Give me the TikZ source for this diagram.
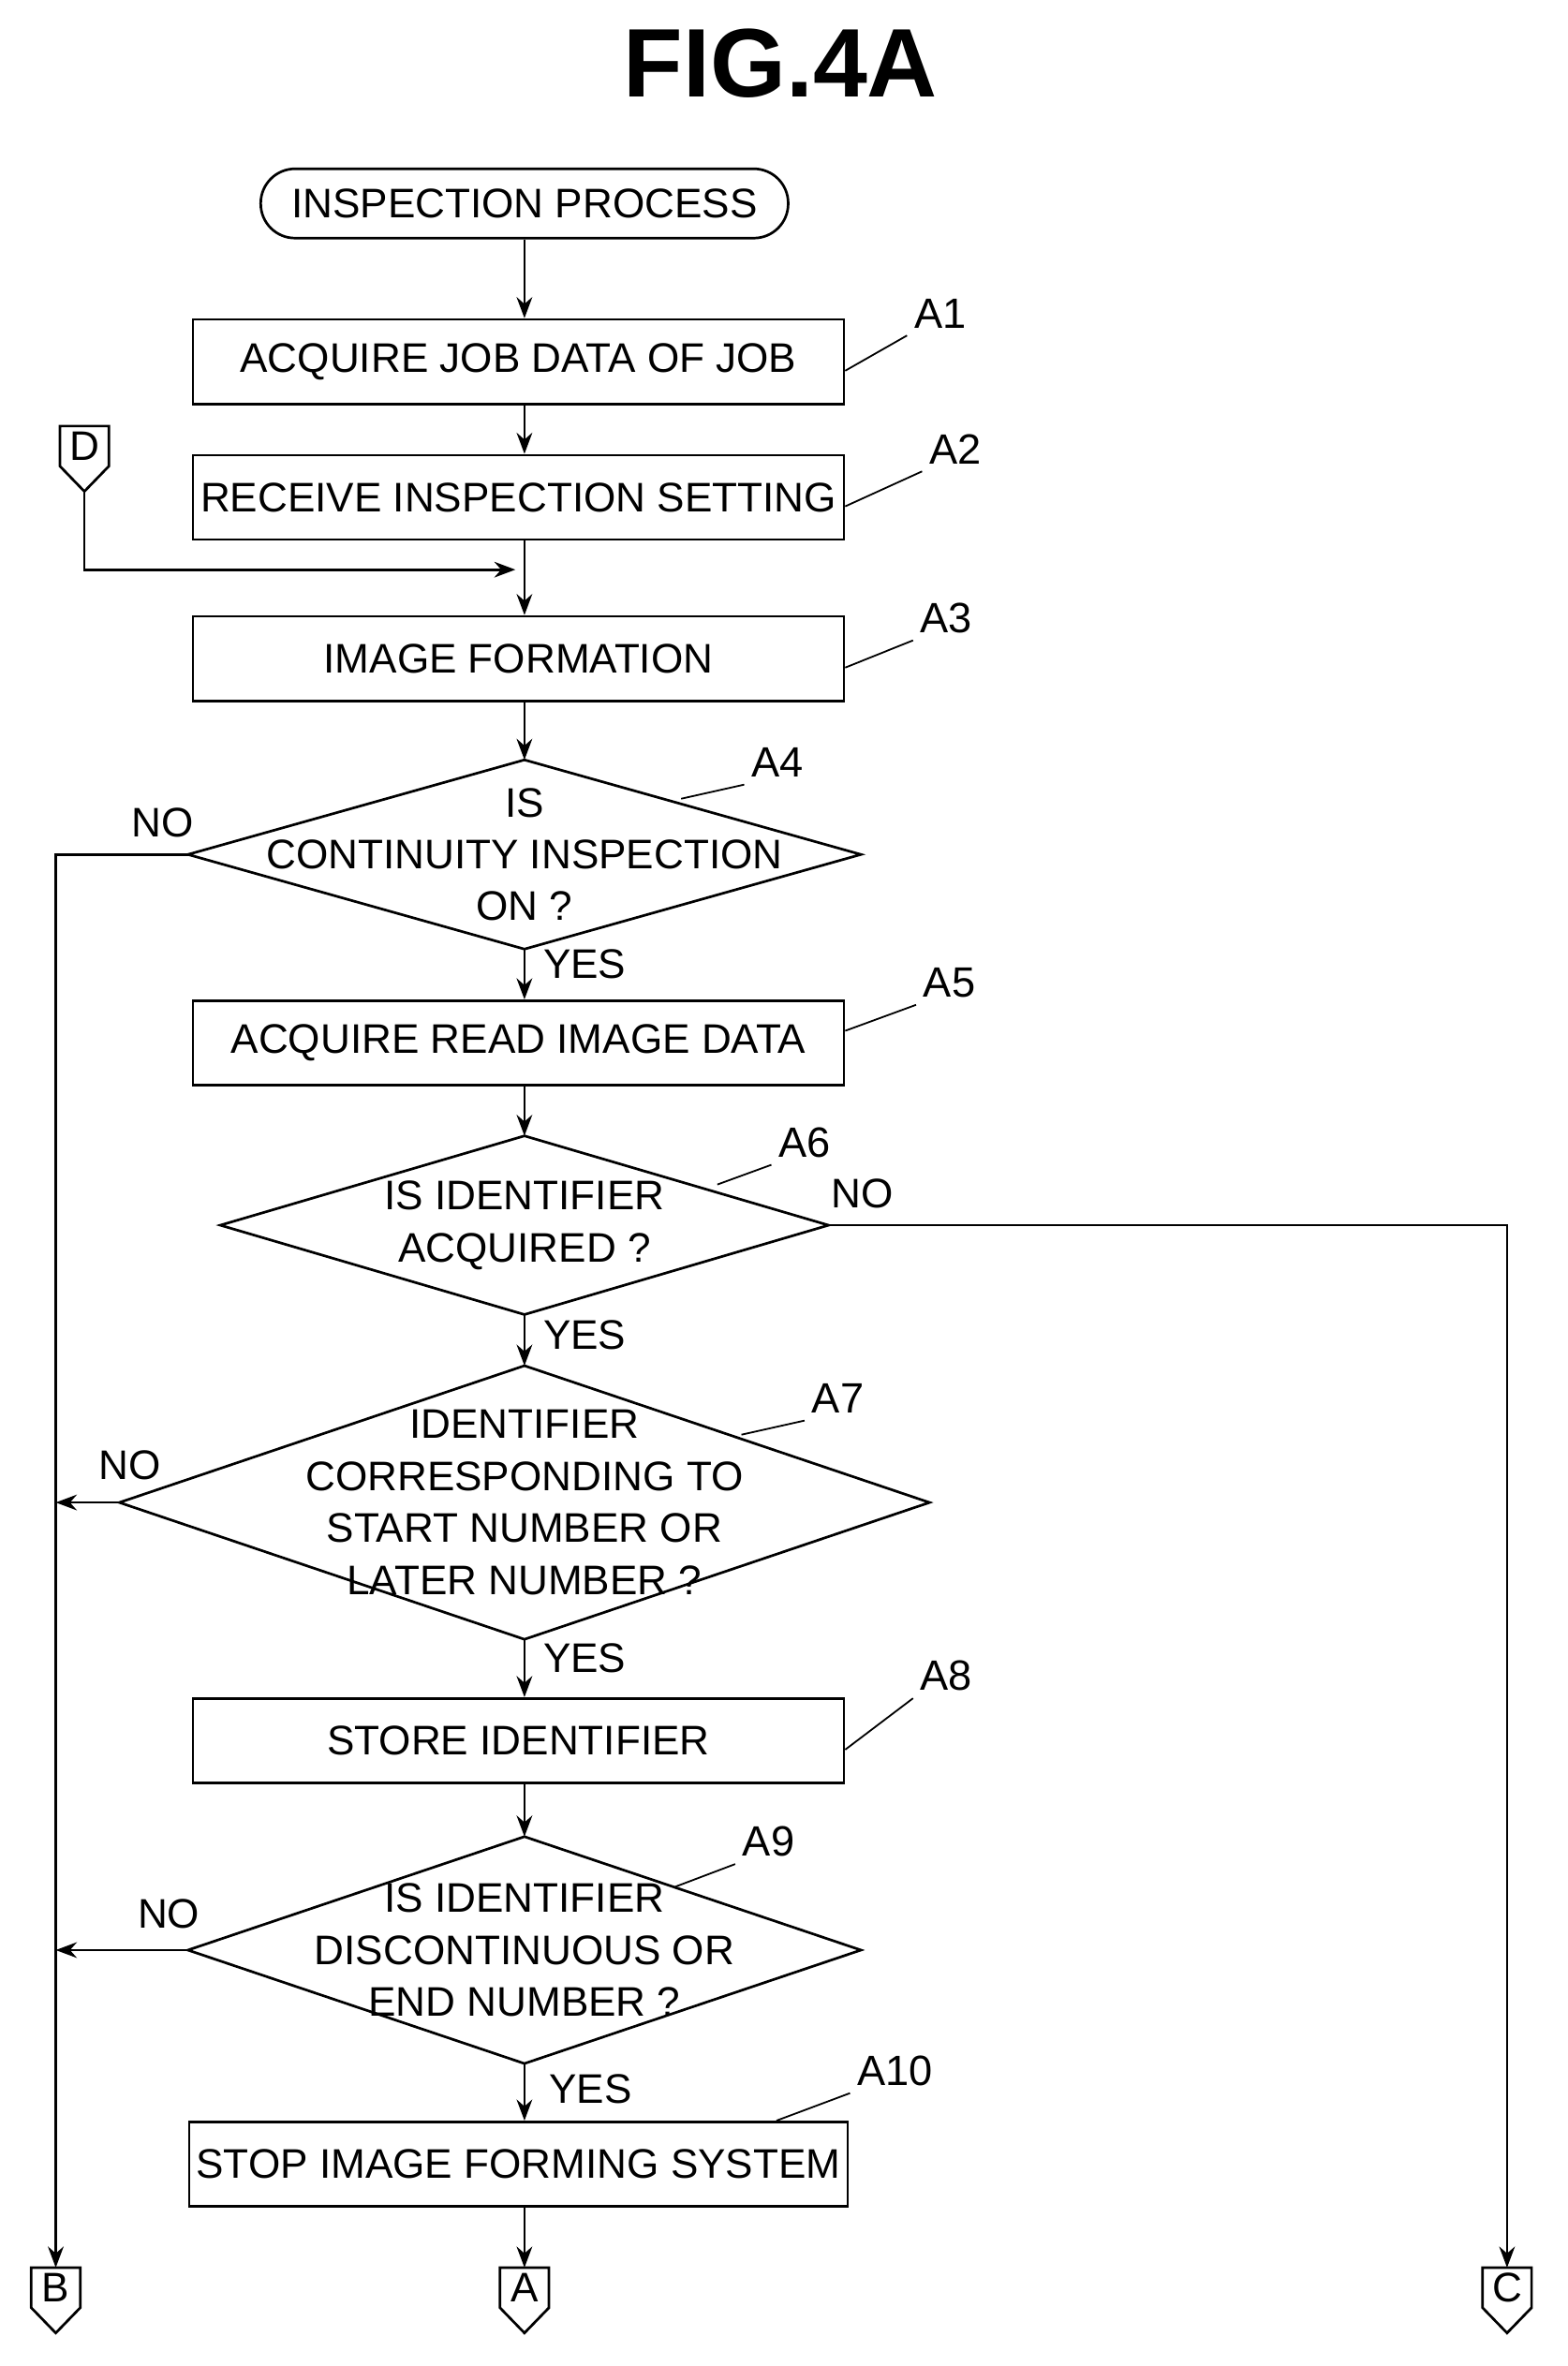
\documentclass[tikz,border=0pt]{standalone}
\usepackage{fontspec}
\setmainfont{Liberation Sans}
\usetikzlibrary{arrows.meta}

\begin{document}
\begin{tikzpicture}[
            every node/.style={font=\fontsize{19.5}{24.5}\selectfont},
            line/.style={line width=1.2pt},
            arrow/.style={line, -{Stealth[length=3.5mm,width=2.6mm]}},
            box/.style={rectangle, draw, line, minimum width=10.8cm, minimum height=1.4cm, text centered},
            term/.style={rectangle, draw, line, rounded corners=0.57cm, minimum width=8.75cm, minimum height=1.15cm},
            decision/.style={rectangle, inner sep=0pt, align=center},
            steplabel/.style={font=\fontsize{20}{24}\selectfont},
            leader/.style={line width=0.8pt},
            offpage/.style={rectangle, minimum width=0.8cm, minimum height=0.65cm, inner sep=0pt}
            ]
            \useasboundingbox (0,0) rectangle (26,-39.25);

            % Title
            \node[font=\fontsize{46}{50}\selectfont\bfseries] (title) at (12.95,-1.05) {FIG.4A};

            % Main flow
            \node[term] (start) at (8.7,-3.375) {INSPECTION PROCESS};
            \node[box] (a1) at (8.6,-6.0) {ACQUIRE JOB DATA OF JOB};
            \node[box] (a2) at (8.6,-8.25) {RECEIVE INSPECTION SETTING};
            \coordinate (merge) at (8.7,-9.45);
            \node[box] (a3) at (8.6,-10.925) {IMAGE FORMATION};
            \node[decision, minimum width=11.15cm, minimum height=3.125cm] (a4) at (8.7,-14.175) {IS\\CONTINUITY INSPECTION\\ON ?};
            \node[box] (a5) at (8.6,-17.3) {ACQUIRE READ IMAGE DATA};
            \node[decision, minimum width=10.075cm, minimum height=2.95cm] (a6) at (8.7,-20.325) {IS IDENTIFIER\\ACQUIRED ?};
            \node[decision, minimum width=13.425cm, minimum height=4.525cm] (a7) at (8.7,-24.925) {IDENTIFIER\\CORRESPONDING TO\\START NUMBER OR\\LATER NUMBER ?};
            \node[box] (a8) at (8.6,-28.875) {STORE IDENTIFIER};
            \node[decision, minimum width=11.15cm, minimum height=3.75cm] (a9) at (8.7,-32.35) {IS IDENTIFIER\\DISCONTINUOUS OR\\END NUMBER ?};
            \node[box] (a10) at (8.6,-35.9) {STOP IMAGE FORMING SYSTEM};
            \foreach \n in {a4,a6,a7,a9}
                \draw[line] (\n.north) -- (\n.east) -- (\n.south) -- (\n.west) -- cycle;

            % Off-page connectors
            \node[offpage] (d) at (1.4,-7.4) {D};
            \node[offpage] (b) at (0.925,-37.95) {B};
            \node[offpage] (a) at (8.7,-37.95) {A};
            \node[offpage] (c) at (25.0,-37.95) {C};
            \foreach \n in {d,b,a,c}
                \draw[line] (\n.north west) -- (\n.north east) -- (\n.south east) -- ([yshift=-0.42cm]\n.south) -- (\n.south west) -- cycle;

            % Step labels
            \node[steplabel] (l1) at (15.6,-5.2) {A1};
            \node[steplabel] (l2) at (15.85,-7.45) {A2};
            \node[steplabel] (l3) at (15.7,-10.25) {A3};
            \node[steplabel] (l4) at (12.9,-12.65) {A4};
            \node[steplabel] (l5) at (15.75,-16.3) {A5};
            \node[steplabel] (l6) at (13.35,-18.95) {A6};
            \node[steplabel] (l7) at (13.9,-23.2) {A7};
            \node[steplabel] (l8) at (15.7,-27.8) {A8};
            \node[steplabel] (l9) at (12.75,-30.55) {A9};
            \node[steplabel] (l10) at (14.85,-34.35) {A10};
            \draw[leader] ([yshift=-0.15cm]a1.east) -- (l1.south west);
            \draw[leader] ([yshift=-0.15cm]a2.east) -- (l2.south west);
            \draw[leader] ([yshift=-0.15cm]a3.east) -- (l3.south west);
            \draw[leader] (11.3,-13.25) -- (l4.south west);
            \draw[leader] ([yshift=0.2cm]a5.east) -- (l5.south west);
            \draw[leader] (11.9,-19.65) -- (l6.south west);
            \draw[leader] (12.3,-23.8) -- (l7.south west);
            \draw[leader] ([yshift=-0.15cm]a8.east) -- (l8.south west);
            \draw[leader] (11.2,-31.3) -- (l9.south west);
            \draw[leader] ([xshift=-1.2cm]a10.north east) -- (l10.south west);

            % Arrows
            \draw[arrow] (start) -- (start|-a1.north);
            \draw[arrow] (a1.south-|start) -- (a2.north-|start);
            \draw[line] (a2.south-|start) -- (merge);
            \draw[arrow] (merge) -- (a3.north-|start);
            \draw[arrow] ([yshift=-0.42cm]d.south) |- ([xshift=-0.15cm]merge);
            \draw[arrow] (a3.south-|start) -- (a4.north);
            \draw[arrow] (a4.south) -- (a5.north-|start);
            \draw[arrow] (a5.south-|start) -- (a6.north);
            \draw[arrow] (a6.south) -- (a7.north);
            \draw[arrow] (a7.south) -- (a8.north-|start);
            \draw[arrow] (a8.south-|start) -- (a9.north);
            \draw[arrow] (a9.south) -- (a10.north-|start);
            \draw[arrow] (a10.south-|start) -- (a.north);
            \draw[arrow] (a4.west) -| (b.north);
            \draw[arrow] (a7.west) -- (a7.west-|b);
            \draw[arrow] (a9.west) -- (a9.west-|b);
            \draw[arrow] (a6.east) -| (c.north);

            % Branch labels
            \node (no4) at (2.7,-13.65) {NO};
            \node (yes4) at (9.7,-16.0) {YES};
            \node (no6) at (14.3,-19.8) {NO};
            \node (yes6) at (9.7,-22.15) {YES};
            \node (no7) at (2.15,-24.3) {NO};
            \node (yes7) at (9.7,-27.5) {YES};
            \node (no9) at (2.8,-31.75) {NO};
            \node (yes9) at (9.8,-34.65) {YES};
        \end{tikzpicture}
\end{document}
